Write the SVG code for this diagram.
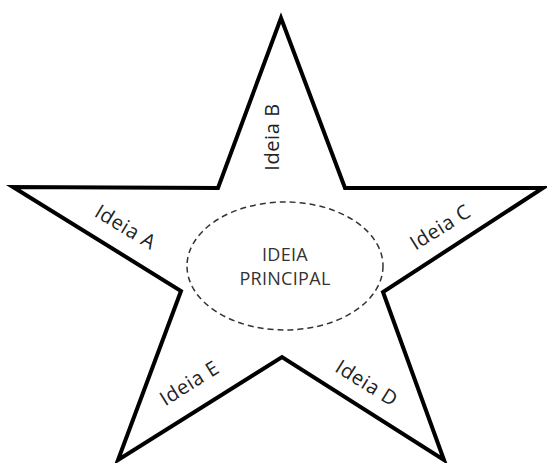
<svg xmlns="http://www.w3.org/2000/svg" width="547" height="463" viewBox="0 0 547 463">
<style>
.star{fill:#fff;stroke:#000;stroke-width:4;stroke-linejoin:miter}
.ell{fill:none;stroke:#333;stroke-width:1.5;stroke-dasharray:6 4}
.lbl{font-family:"Open Sans","Liberation Sans",sans-serif;font-size:20px;letter-spacing:0.6px;fill:#222;text-anchor:middle}
.main{font-family:"Open Sans","Liberation Sans",sans-serif;font-size:18px;letter-spacing:0.3px;fill:#333;text-anchor:middle}
</style>
<rect width="547" height="463" fill="#fff"/>
<g id="star">
<polygon class="star" points="281,18 345,188 543,188 383,292 444,460 282,357 118,460 181,291 13,187 218,188"/>
</g>
<g id="center">
<ellipse class="ell" cx="285" cy="266" rx="98" ry="64"/>
<text class="main" x="285" y="261">IDEIA</text>
<text class="main" x="285" y="285">PRINCIPAL</text>
</g>
<g id="ideiaB"><text class="lbl" transform="translate(279,137) rotate(-90)">Ideia B</text></g>
<g id="ideiaA"><text class="lbl" transform="translate(122,233) rotate(31)">Ideia A</text></g>
<g id="ideiaC"><text class="lbl" transform="translate(444,233) rotate(-32)">Ideia C</text></g>
<g id="ideiaE"><text class="lbl" transform="translate(193,389) rotate(-32)">Ideia E</text></g>
<g id="ideiaD"><text class="lbl" transform="translate(363,389) rotate(32)">Ideia D</text></g>
<g id="connectors"></g>
</svg>
